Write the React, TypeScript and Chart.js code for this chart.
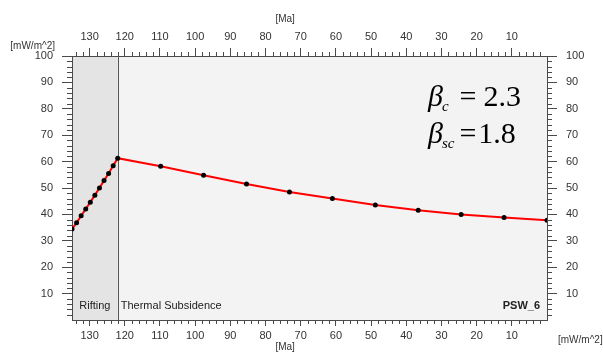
import React, { useEffect, useRef } from 'react';
import { Chart, registerables } from 'chart.js';
Chart.register(...registerables);

// Age [Ma] and heat flow [mW/m^2]
const ages = [135, 133.7, 132.4, 131.1, 129.8, 128.5, 127.2, 125.9, 124.6, 123.3, 122, 109.8, 97.6, 85.4, 73.2, 61, 48.8, 36.6, 24.4, 12.2, 0];
const heatFlow = [34.5, 36.8, 39.5, 42.0, 44.6, 47.3, 50.0, 52.8, 55.5, 58.4, 61.3, 58.2, 54.8, 51.5, 48.5, 46.0, 43.6, 41.6, 40.0, 38.8, 37.8];

const ageTicks = [130, 120, 110, 100, 90, 80, 70, 60, 50, 40, 30, 20, 10];
const heatTicks = [10, 20, 30, 40, 50, 60, 70, 80, 90, 100];
const ageMin = 0;
const ageMax = 135;
const heatMin = 0;
const heatMax = 100;
const riftStart = 135;
const riftEnd = 122;
const phaseLabels = ['Rifting', 'Thermal Subsidence'];
const wellName = 'PSW_6';
const betaC = '2.3';
const betaSC = '1.8';

const minorAge: number[] = [];
for (let v = 2; v < ageMax; v += 2) if (v % 10 !== 0) minorAge.push(v);
const minorHeat: number[] = [];
for (let v = 2; v < heatMax; v += 2) if (v % 10 !== 0) minorHeat.push(v);

const FONT = "'Liberation Sans', Arial, sans-serif";
const AXIS_COLOR = '#4a4a4a';
const TEXT_COLOR = '#333333';

const decorPlugin = {
  id: 'decor',
  beforeDraw(chart: any) {
    const { ctx, chartArea: a, scales } = chart;
    ctx.save();
    ctx.fillStyle = '#f3f3f3';
    ctx.fillRect(a.left, a.top, a.right - a.left, a.bottom - a.top);
    const x0 = scales.x.getPixelForValue(riftStart);
    const x1 = scales.x.getPixelForValue(riftEnd);
    ctx.fillStyle = '#e4e4e4';
    ctx.fillRect(Math.min(x0, x1), a.top, Math.abs(x1 - x0), a.bottom - a.top);
    ctx.restore();
  },
  beforeDatasetsDraw(chart: any) {
    const { ctx, chartArea: a, scales } = chart;
    ctx.save();
    const x1 = Math.round(scales.x.getPixelForValue(riftEnd)) + 0.5;
    ctx.strokeStyle = '#555';
    ctx.lineWidth = 1;
    ctx.beginPath();
    ctx.moveTo(x1, a.top);
    ctx.lineTo(x1, a.bottom);
    ctx.stroke();
    ctx.restore();
  },
  afterDraw(chart: any) {
    const { ctx, chartArea: a, scales } = chart;
    ctx.save();
    // minor ticks
    ctx.strokeStyle = AXIS_COLOR;
    ctx.lineWidth = 1;
    ctx.beginPath();
    for (const v of minorAge) {
      const px = Math.round(scales.x.getPixelForValue(v)) + 0.5;
      ctx.moveTo(px, a.bottom);
      ctx.lineTo(px, a.bottom + 4);
      ctx.moveTo(px, a.top);
      ctx.lineTo(px, a.top - 4);
    }
    for (const v of minorHeat) {
      const py = Math.round(scales.y.getPixelForValue(v)) + 0.5;
      ctx.moveTo(a.left, py);
      ctx.lineTo(a.left - 5, py);
      ctx.moveTo(a.right, py);
      ctx.lineTo(a.right + 5, py);
    }
    ctx.stroke();

    // axis unit labels
    ctx.fillStyle = TEXT_COLOR;
    ctx.font = `10px ${FONT}`;
    ctx.textBaseline = 'middle';
    ctx.textAlign = 'center';
    const midX = (scales.x.getPixelForValue(ageTicks[Math.floor(ageTicks.length / 2)]) + scales.x.getPixelForValue(ageTicks[Math.floor(ageTicks.length / 2) - 1])) / 2;
    ctx.fillText('[Ma]', midX + 2, a.top - 37);
    ctx.fillText('[Ma]', midX + 2, a.bottom + 27);
    ctx.textAlign = 'right';
    ctx.fillText('[mW/m^2]', a.left - 17, a.top - 10);
    ctx.textAlign = 'left';
    ctx.fillText('[mW/m^2]', a.right + 11, a.bottom + 20);

    // phase labels
    ctx.font = `11px ${FONT}`;
    ctx.fillStyle = '#222';
    const xr = scales.x.getPixelForValue(riftEnd);
    const xs = scales.x.getPixelForValue(riftStart);
    ctx.textAlign = 'center';
    ctx.fillText(phaseLabels[0], (xr + xs) / 2, a.bottom - 14);
    ctx.textAlign = 'left';
    ctx.fillText(phaseLabels[1], xr + 3, a.bottom - 14);
    ctx.font = `bold 11px ${FONT}`;
    ctx.textAlign = 'right';
    ctx.fillText(wellName, a.right - 7, a.bottom - 14);

    // beta annotations
    ctx.fillStyle = '#000';
    ctx.textBaseline = 'alphabetic';
    ctx.textAlign = 'left';
    const serif = "'Liberation Serif', 'Times New Roman', serif";
    const drawBeta = (sub: string, val: string, x: number, y: number, eqGap: number, valGap: number) => {
      ctx.font = `italic 30px ${serif}`;
      ctx.fillText('\u03B2', x, y);
      const bw = ctx.measureText('\u03B2').width;
      ctx.font = `italic 15px ${serif}`;
      ctx.fillText(sub, x + bw - 1, y + 5);
      const sw = ctx.measureText(sub).width;
      ctx.font = `30px ${serif}`;
      ctx.fillText('=', x + bw + sw + eqGap, y);
      const ew = ctx.measureText('=').width;
      ctx.fillText(val, x + bw + sw + eqGap + ew + valGap, y);
    };
    drawBeta('c', betaC, a.right - 119, a.top + 50, 10, 7);
    drawBeta('sc', betaSC, a.right - 119, a.top + 87, 4, 2);
    ctx.restore();
  },
};

export default function App() {
  const ref = useRef<HTMLCanvasElement | null>(null);
  useEffect(() => {
    if (!ref.current) return;
    const data = ages.map((a, i) => ({ x: a, y: heatFlow[i] }));
    const tickFont = { family: FONT, size: 11 };
    const xCommon = (pos: 'top' | 'bottom', height: number, tickLen: number, pad: number) => ({
      type: 'linear' as const,
      position: pos,
      min: ageMin,
      max: ageMax,
      reverse: true,
      afterBuildTicks: (s: any) => {
        s.ticks = ageTicks.map((v) => ({ value: v }));
      },
      afterFit: (s: any) => {
        s.height = height;
      },
      ticks: { font: tickFont, color: TEXT_COLOR, padding: pad, maxRotation: 0, autoSkip: false },
      grid: { drawOnChartArea: false, drawTicks: true, tickLength: tickLen, color: AXIS_COLOR },
      border: { display: true, color: AXIS_COLOR, width: 1 },
    });
    const yCommon = (pos: 'left' | 'right', width: number) => ({
      type: 'linear' as const,
      position: pos,
      min: heatMin,
      max: heatMax,
      afterBuildTicks: (s: any) => {
        s.ticks = heatTicks.map((v) => ({ value: v }));
      },
      afterFit: (s: any) => {
        s.width = width;
      },
      ticks: { font: tickFont, color: TEXT_COLOR, padding: 9, autoSkip: false },
      grid: { drawOnChartArea: false, drawTicks: true, tickLength: 10, color: AXIS_COLOR },
      border: { display: true, color: AXIS_COLOR, width: 1 },
    });
    const chart = new Chart(ref.current, {
      type: 'line',
      data: {
        datasets: [
          {
            data,
            xAxisID: 'x',
            yAxisID: 'y',
            borderColor: '#ff0000',
            borderWidth: 2,
            pointRadius: 2.5,
            pointBackgroundColor: '#000',
            pointBorderWidth: 0,
            tension: 0,
          },
        ],
      },
      options: {
        responsive: false,
        animation: false,
        devicePixelRatio: 1,
        layout: { padding: 0 },
        plugins: { legend: { display: false }, tooltip: { enabled: false } },
        scales: {
          x: xCommon('bottom', 34, 6, 3) as any,
          x2: xCommon('top', 56, 8, 4) as any,
          y: yCommon('left', 72) as any,
          y2: yCommon('right', 56) as any,
        },
      },
      plugins: [decorPlugin],
    });
    return () => chart.destroy();
  }, []);
  return (
    <div style={{ position: 'absolute', left: 0, top: 0, width: 603, height: 354, background: '#fff' }}>
      <canvas ref={ref} width={603} height={354} style={{ width: 603, height: 354, display: 'block' }} />
    </div>
  );
}
